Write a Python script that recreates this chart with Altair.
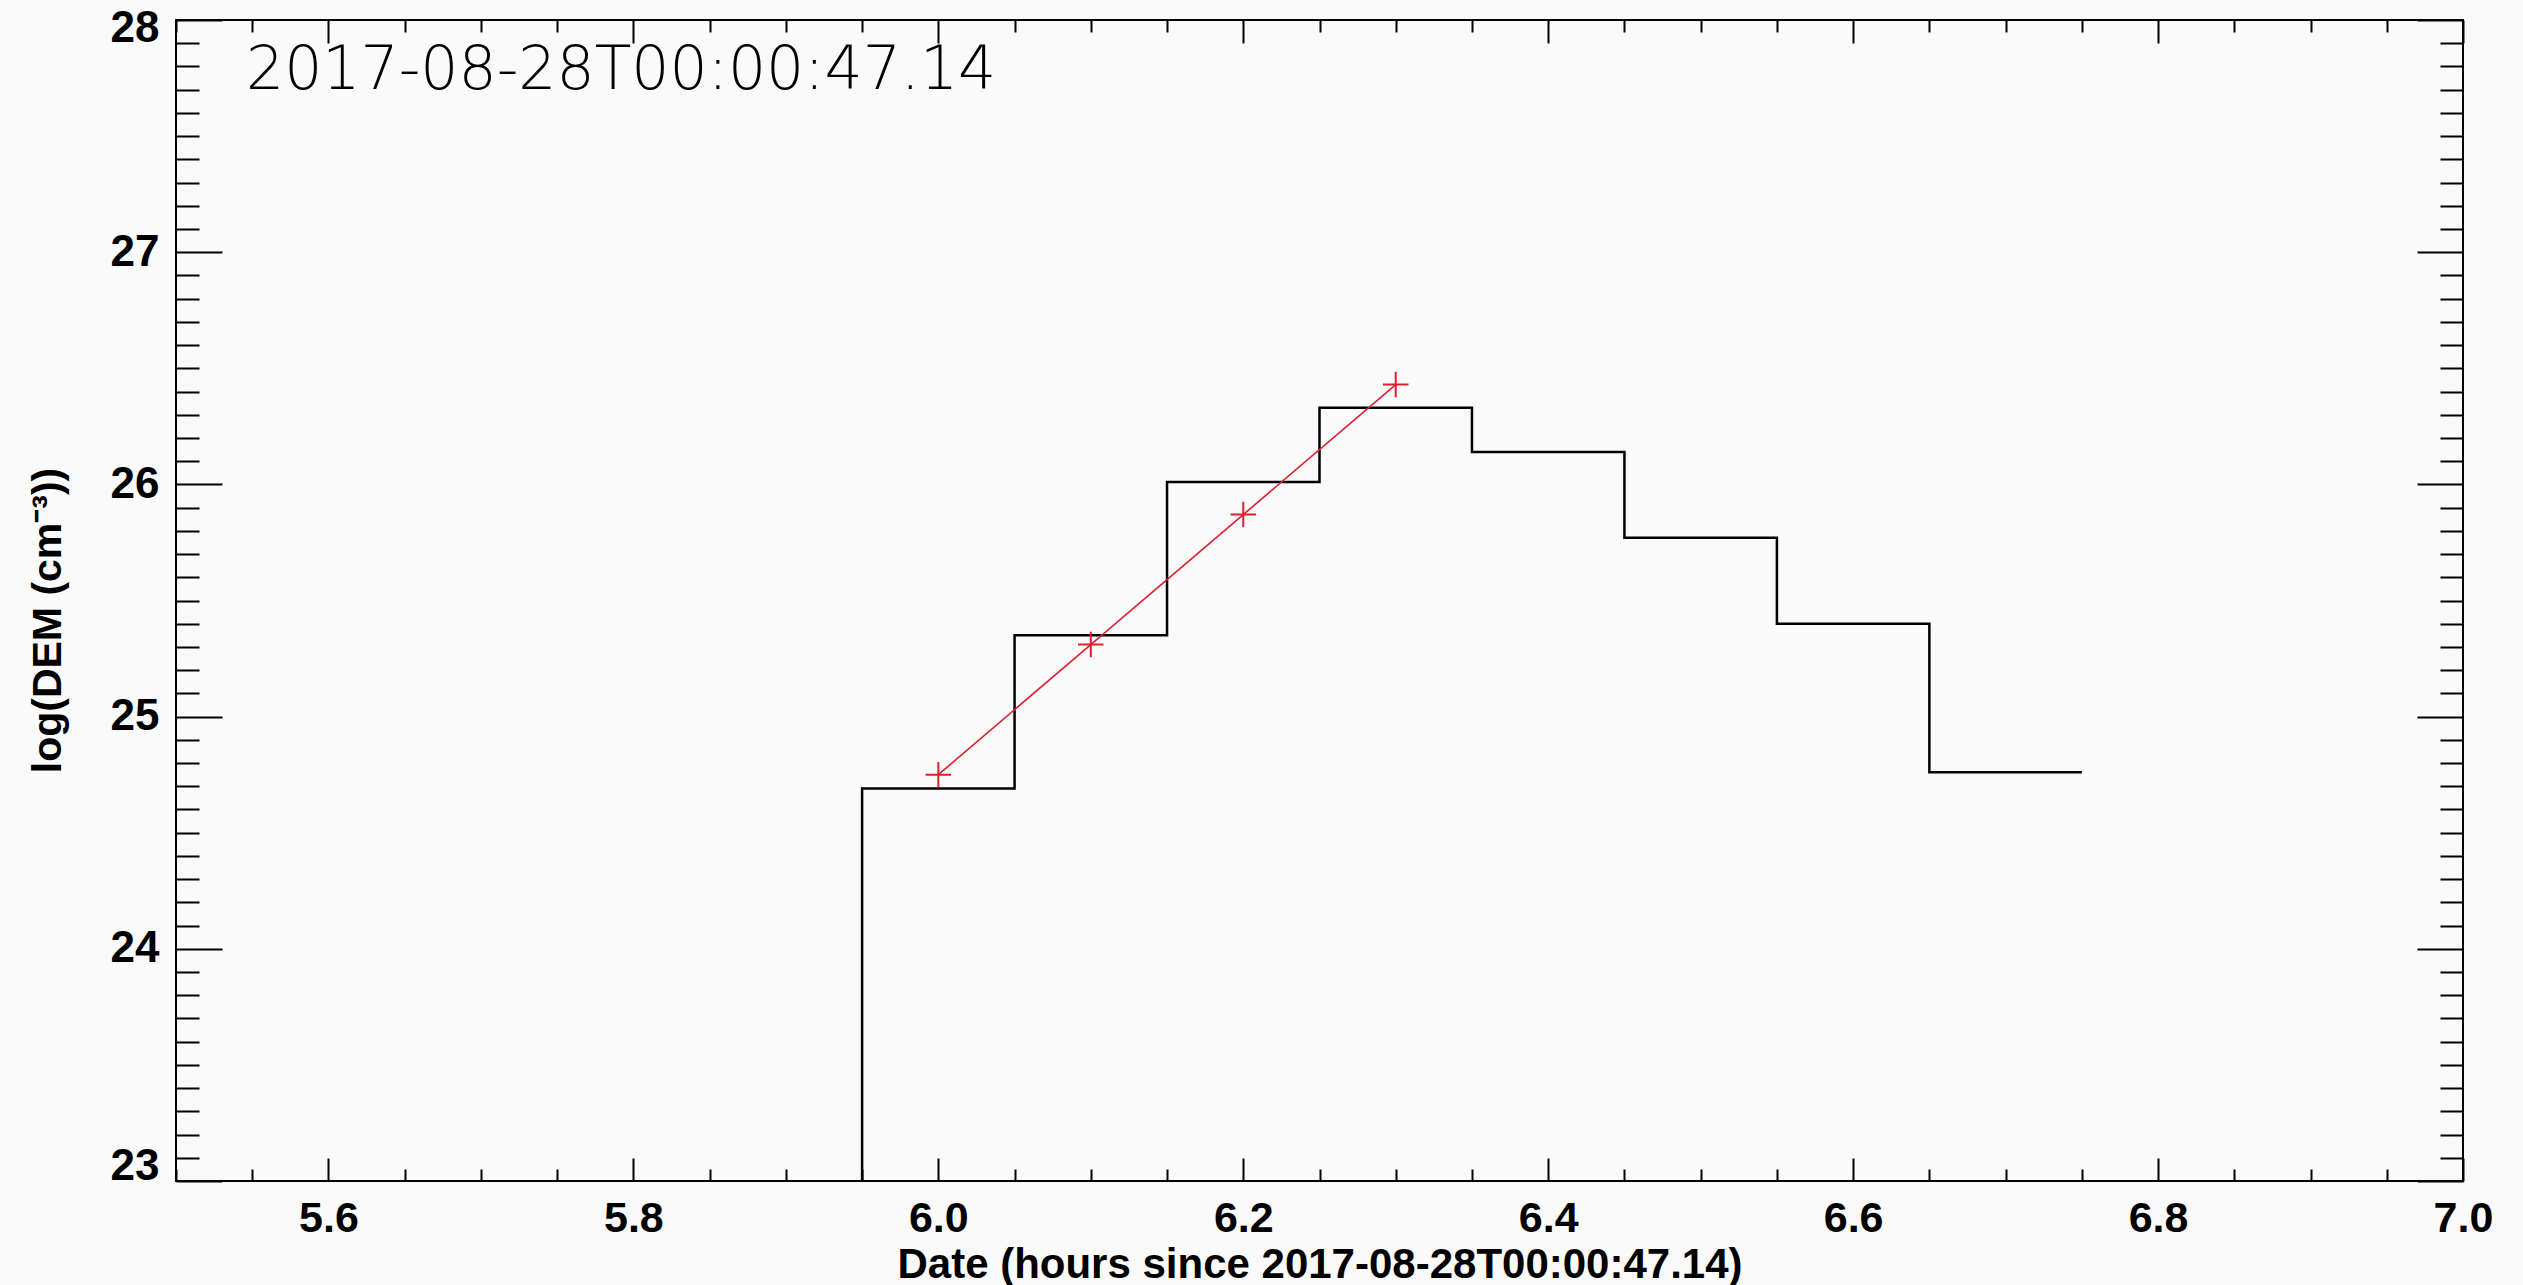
import altair as alt
import pandas as pd

# Histogram of log(DEM): left bin edges plus the closing edge, one value per bin
bin_edges = [5.85, 5.95, 6.05, 6.15, 6.25, 6.35, 6.45, 6.55, 6.65, 6.75]
log_dem = [21.5, 24.69, 25.35, 26.01, 26.33, 26.14, 25.77, 25.40, 24.76]

# Straight-line fit over the rising side of the distribution
fit_x = [6.0, 6.1, 6.2, 6.3]
fit_y = [24.75, 25.31, 25.87, 26.43]

# Axis tick positions
x_labels = [5.6, 5.8, 6.0, 6.2, 6.4, 6.6, 6.8, 7.0]
x_ticks = [round(5.5 + 0.05 * i, 2) for i in range(31)]
y_labels = [23, 24, 25, 26, 27, 28]
y_ticks = [round(23 + 0.1 * i, 1) for i in range(51)]

stamp = "2017-08-28T00:00:47.14"
x_title = "Date (hours since 2017-08-28T00:00:47.14)"
y_title = "log(DEM (cm\u207b\u00b3))"

X_MIN, X_MAX = 5.5, 7.0
Y_MIN, Y_MAX = 23, 28

W, H = 2287, 1161
RED = "#dc2030"

# stairs: each bin drawn from its left edge, closed at the last edge
step_rows = [{"t": bin_edges[i], "v": log_dem[i]} for i in range(len(log_dem))]
step_rows.append({"t": bin_edges[-1], "v": log_dem[-1]})
steps = pd.DataFrame(step_rows)
fit = pd.DataFrame({"t": fit_x, "v": fit_y})
corner = pd.DataFrame({"t": [X_MIN], "v": [Y_MAX], "label": [stamp]})

x_scale = alt.Scale(domain=[X_MIN, X_MAX], nice=False, zero=False)
y_scale = alt.Scale(domain=[Y_MIN, Y_MAX], nice=False, zero=False)

font = "Liberation Sans"

x_major_test = "abs(datum.value * 5 - round(datum.value * 5)) < 0.001"
y_major_test = "abs(datum.value - round(datum.value)) < 0.001"


def tick_axis(orient, values, offset, test, big, small):
    return alt.Axis(
        orient=orient, values=values, offset=offset, labels=False, domain=False,
        grid=False, title=None, tickColor="black", tickWidth=2,
        tickSize={"condition": {"test": test, "value": big}, "value": small},
    )


# labelled axes carried by the histogram layer
x_axis = alt.Axis(
    orient="bottom", values=x_labels, format=".1f", ticks=False, domain=False, grid=False,
    labelFont=font, labelFontWeight="bold", labelFontSize=43, labelColor="black",
    labelPadding=16, labelFlush=False,
    title=x_title, titleFont=font, titleFontWeight="bold", titleFontSize=42,
    titleColor="black", titleBaseline="alphabetic", titleY=96,
)
y_axis = alt.Axis(
    orient="left", values=y_labels, format="d", ticks=False, domain=False, grid=False,
    labelFont=font, labelFontWeight="bold", labelFontSize=44, labelColor="black",
    labelPadding=17,
    labelOffset={"condition": [{"test": "datum.value == 28", "value": 8},
                               {"test": "datum.value == 23", "value": -15}], "value": 0},
    title=y_title, titleFont=font, titleFontWeight="bold", titleFontSize=41,
    titleColor="black", titleBaseline="alphabetic", titleX=-116, titleY=600,
)

hist = alt.Chart(steps).mark_line(
    interpolate="step-after", color="black", strokeWidth=2.5, clip=True
).encode(
    x=alt.X("t:Q", scale=x_scale, axis=x_axis),
    y=alt.Y("v:Q", scale=y_scale, axis=y_axis),
)

# fit line: inward ticks along the bottom and left edges
fit_line = alt.Chart(fit).mark_line(color=RED, strokeWidth=1.6, clip=True).encode(
    x=alt.X("t:Q", scale=x_scale, axis=tick_axis("top", x_ticks, -H, x_major_test, 23, 12)),
    y=alt.Y("v:Q", scale=y_scale, axis=tick_axis("right", y_ticks, -W, y_major_test, 46, 23)),
)

# fit points as plus signs: inward ticks along the top and right edges
fit_pts = alt.Chart(fit).mark_point(
    shape="M-1,0L1,0M0,-1L0,1", size=650, strokeWidth=2, color=RED, filled=False, opacity=1
).encode(
    x=alt.X("t:Q", scale=x_scale, axis=tick_axis("bottom", x_ticks, -H, x_major_test, 23, 12)),
    y=alt.Y("v:Q", scale=y_scale, axis=tick_axis("left", y_ticks, -W, y_major_test, 46, 23)),
)

# timestamp in the upper-left corner of the plot
stamp_text = alt.Chart(corner).mark_text(
    align="left", baseline="alphabetic", dx=70, dy=69,
    font="DejaVu Sans", fontWeight=200, fontSize=60, color="black",
).encode(
    x=alt.X("t:Q", scale=x_scale, axis=None),
    y=alt.Y("v:Q", scale=y_scale, axis=None),
    text="label:N",
)

chart = (
    alt.layer(hist, fit_line, fit_pts, stamp_text)
    .resolve_axis(x="independent", y="independent")
    .properties(
        width=W, height=H,
        autosize=alt.AutoSizeParams(type="none"),
        padding={"left": 176, "top": 20, "right": 60, "bottom": 104},
        background="#fafafa",
    )
    .configure_view(stroke="black", strokeWidth=2)
)

chart.save("out.html", embed_options={"renderer": "svg", "actions": False})
